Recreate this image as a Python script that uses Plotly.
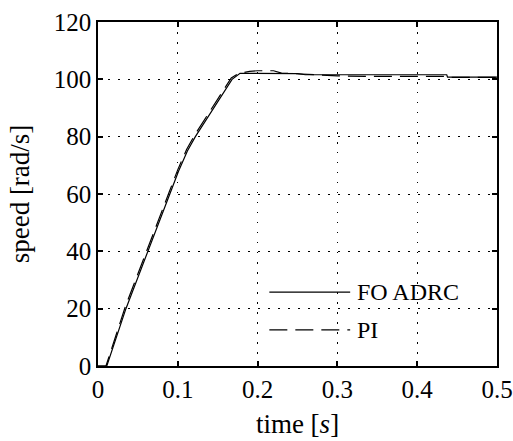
import plotly.graph_objects as go

# Data
t_fo = [0.0, 0.011, 0.035, 0.062, 0.090, 0.101, 0.112, 0.122, 0.145, 0.168, 0.178, 0.20, 0.25, 0.26, 0.30, 0.35, 0.40, 0.437, 0.438, 0.50]
v_fo = [0, 0, 20, 40, 60, 68, 75, 80, 90, 100, 102.1, 102.1, 102.0, 101.6, 101.6, 101.6, 101.6, 101.6, 100.8, 100.8]

t_pi = [0.0, 0.010, 0.034, 0.061, 0.089, 0.100, 0.111, 0.121, 0.144, 0.167, 0.176, 0.19, 0.20, 0.22, 0.23, 0.26, 0.30, 0.35, 0.40, 0.437, 0.44, 0.50]
v_pi = [0, 0, 20.5, 40.5, 60.5, 68.5, 75.5, 80.5, 90.5, 100.5, 102, 102.8, 103, 103, 102.2, 101.8, 101.2, 101.0, 101.0, 101.0, 100.7, 100.7]

series_names = ["FO ADRC", "PI"]
x_ticks = [0, 0.1, 0.2, 0.3, 0.4, 0.5]
y_ticks = [0, 20, 40, 60, 80, 100, 120]

FONT = "Liberation Serif, Times New Roman, serif"
PI_DASH = "18px,8px"

fig = go.Figure()
fig.add_trace(go.Scatter(x=t_fo, y=v_fo, mode="lines", name=series_names[0],
                         line=dict(color="black", width=1.2), showlegend=False))
fig.add_trace(go.Scatter(x=t_pi, y=v_pi, mode="lines", name=series_names[1],
                         line=dict(color="black", width=1.2, dash=PI_DASH), showlegend=False))

axis_common = dict(
    showline=True, linecolor="black", linewidth=1.5, mirror="ticks",
    ticks="inside", ticklen=5, tickwidth=1.5, tickcolor="black",
    showgrid=True, gridcolor="black", gridwidth=1.3, griddash="1.5px,8.5px",
    zeroline=False, tickfont=dict(family=FONT, size=25, color="black"),
    automargin=False,
)

fig.update_xaxes(range=[0, 0.5], tickvals=x_ticks, ticktext=[str(v) for v in x_ticks],
                 title=dict(text="time [<i>s</i>]", font=dict(family=FONT, size=27, color="black"), standoff=12),
                 **axis_common)
fig.update_yaxes(range=[0, 120], tickvals=y_ticks,
                 title=dict(text="speed [rad/s]", font=dict(family=FONT, size=27, color="black"), standoff=16),
                 **axis_common)

# Manual legend (transparent, no border) with long line samples
leg_y = [0.215, 0.105]
dashes = ["solid", PI_DASH]
for name, yy, dsh in zip(series_names, leg_y, dashes):
    fig.add_shape(type="line", xref="paper", yref="paper", x0=0.4294, x1=0.632, y0=yy, y1=yy,
                  line=dict(color="black", width=1.2, dash=dsh))
    fig.add_annotation(text=name, xref="paper", yref="paper", x=0.645, y=yy, xanchor="left",
                       yanchor="middle", showarrow=False, font=dict(family=FONT, size=24, color="black"))

fig.update_layout(
    width=513, height=441,
    margin=dict(l=98, r=16, t=22, b=75),
    paper_bgcolor="white", plot_bgcolor="white",
    font=dict(family=FONT, color="black"),
)

# remove the page's default body margin so the figure fills the window exactly
fig.write_html("out.html",
               config={"displayModeBar": False},
               post_script="document.body.style.margin='0px';document.body.style.overflow='hidden';")
